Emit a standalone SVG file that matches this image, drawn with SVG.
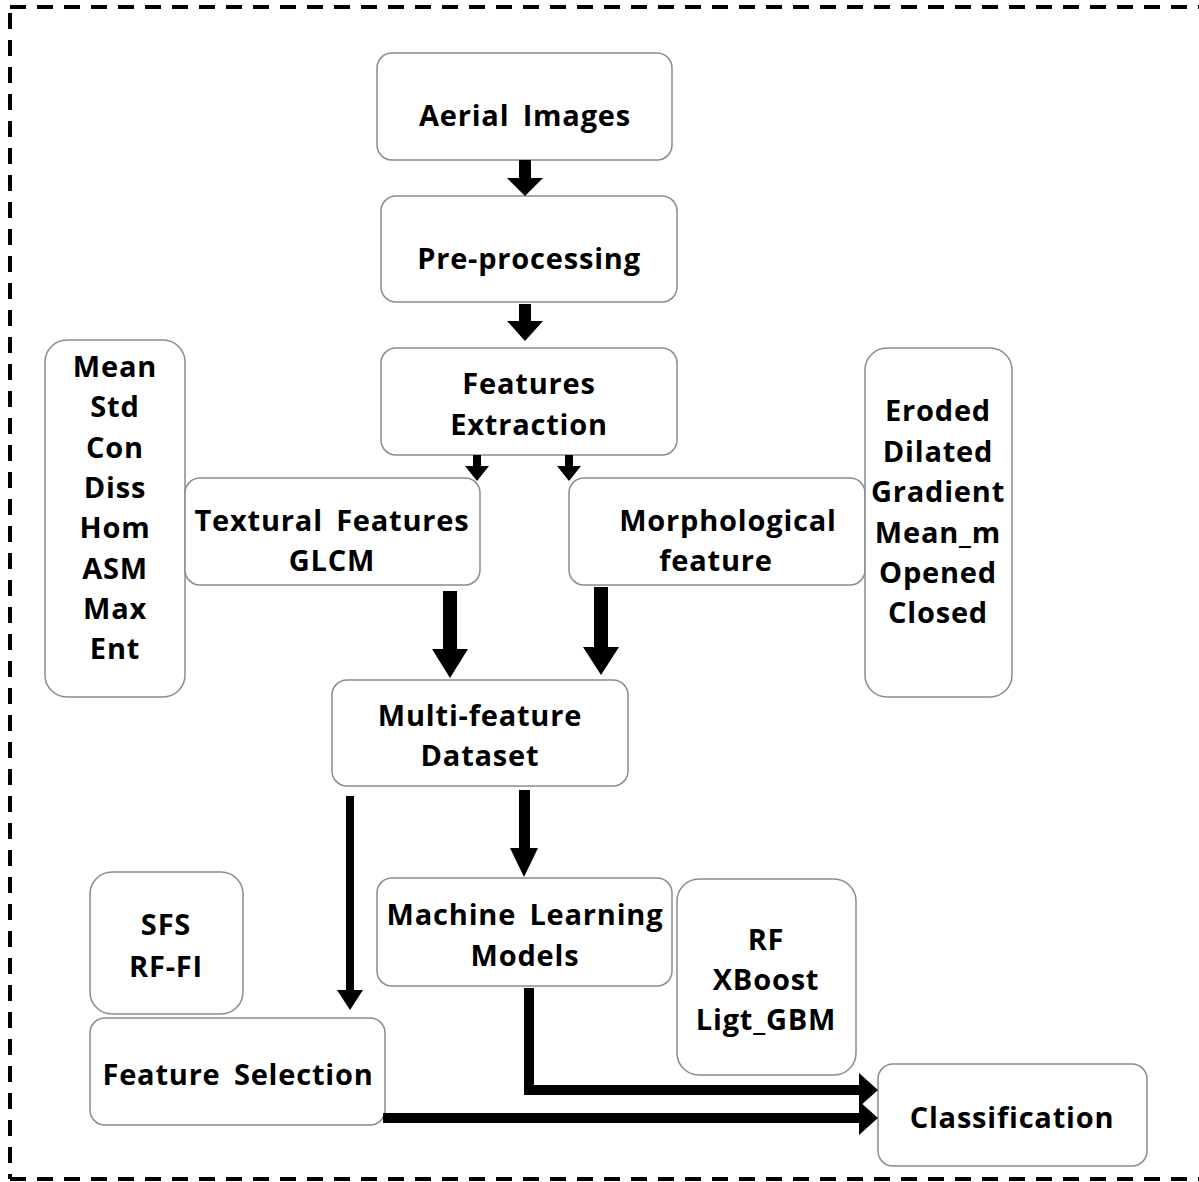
<svg xmlns="http://www.w3.org/2000/svg" width="1199" height="1182" viewBox="0 0 1199 1182">
<style>
.box{fill:#fff;stroke:#8c8c8c;stroke-width:1.5}
.t{font-family:"Open Sans","DejaVu Sans",sans-serif;font-weight:700;font-size:29px;letter-spacing:0.8px;word-spacing:5px;fill:#000;text-anchor:middle;dominant-baseline:central}
.arr{fill:#000;stroke:none}
.border{fill:none;stroke:#000;stroke-width:4;stroke-dasharray:16 11}
</style>
<rect x="0" y="0" width="1199" height="1182" fill="#fff"/>
<g id="frame">
<path class="border" d="M10,7 H1199"/>
<path class="border" d="M10,1179 H1199"/>
<path class="border" d="M10,13 V1179"/>
</g>
<g id="aerial"><rect class="box" x="377" y="53" width="295" height="107" rx="15"/><text class="t" x="525" y="114">Aerial Images</text></g>
<g id="preprocessing"><rect class="box" x="381" y="196" width="296" height="106" rx="15"/><text class="t" x="529" y="257">Pre-processing</text></g>
<g id="extraction"><rect class="box" x="381" y="348" width="296" height="107" rx="15"/><text class="t" x="529" y="382">Features</text><text class="t" x="529" y="423">Extraction</text></g>
<g id="texture-list"><rect class="box" x="45" y="340" width="140" height="357" rx="22"/>
<text class="t" x="115" y="365">Mean</text><text class="t" x="115" y="405">Std</text><text class="t" x="115" y="446">Con</text><text class="t" x="115" y="486">Diss</text><text class="t" x="115" y="526">Hom</text><text class="t" x="115" y="567">ASM</text><text class="t" x="115" y="607">Max</text><text class="t" x="115" y="647">Ent</text></g>
<g id="textural"><rect class="box" x="185" y="478" width="295" height="107" rx="15"/><text class="t" x="332" y="519">Textural Features</text><text class="t" x="332" y="559">GLCM</text></g>
<g id="morphological"><rect class="box" x="569" y="478" width="296" height="107" rx="15"/><text class="t" x="728" y="519">Morphological</text><text class="t" x="716" y="559">feature</text></g>
<g id="morph-list"><rect class="box" x="865" y="348" width="147" height="349" rx="22"/>
<text class="t" x="938" y="409">Eroded</text><text class="t" x="938" y="450">Dilated</text><text class="t" x="938" y="490">Gradient</text><text class="t" x="938" y="531">Mean_m</text><text class="t" x="938" y="571">Opened</text><text class="t" x="938" y="611">Closed</text></g>
<g id="dataset"><rect class="box" x="332" y="680" width="296" height="106" rx="15"/><text class="t" x="480" y="714">Multi-feature</text><text class="t" x="480" y="754">Dataset</text></g>
<g id="fs-methods"><rect class="box" x="90" y="872" width="153" height="142" rx="22"/><text class="t" x="166" y="923">SFS</text><text class="t" x="166" y="965">RF-FI</text></g>
<g id="ml"><rect class="box" x="377" y="878" width="295" height="108" rx="15"/><text class="t" x="525" y="913">Machine Learning</text><text class="t" x="525" y="954">Models</text></g>
<g id="ml-list"><rect class="box" x="677" y="879" width="179" height="196" rx="22"/><text class="t" x="766" y="938">RF</text><text class="t" x="766" y="978">XBoost</text><text class="t" x="766" y="1018">Ligt_GBM</text></g>
<g id="feature-selection"><rect class="box" x="90" y="1018" width="295" height="107" rx="15"/><text class="t" x="238" y="1073">Feature Selection</text></g>
<g id="classification"><rect class="box" x="878" y="1064" width="269" height="102" rx="15"/><text class="t" x="1012" y="1116">Classification</text></g>
<g id="connectors">
<path class="arr" d="M519,160 H531 V178 H543 L525,196 L507,178 H519 Z"/>
<path class="arr" d="M519,304 H531 V321 H543 L525,341 L507,321 H519 Z"/>
<path class="arr" d="M473,455 H481 V466 H489 L477,481 L465,466 H473 Z"/>
<path class="arr" d="M565,455 H573 V466 H581 L569,481 L557,466 H565 Z"/>
<path class="arr" d="M443,591 H457 V649 H468 L450,678 L432,649 H443 Z"/>
<path class="arr" d="M594,587 H608 V647 H619 L601,675 L583,647 H594 Z"/>
<path class="arr" d="M519,790 H530 V848 H538 L524,877 L510,848 H519 Z"/>
<path class="arr" d="M346,796 H354 V990 H363 L350,1010 L337,990 H346 Z"/>
<path class="arr" d="M524,988 H534 V1085 H859 V1073 L878,1090 L859,1107 V1095 H524 Z"/>
<path class="arr" d="M383,1113 H859 V1101 L878,1118 L859,1135 V1123 H383 Z"/>
</g>
</svg>
